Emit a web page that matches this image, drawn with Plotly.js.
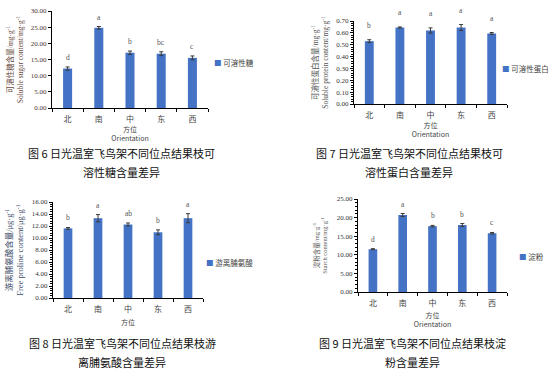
<!DOCTYPE html>
<html><head><meta charset="utf-8">
<script src="https://cdn.plot.ly/plotly-3.0.1.min.js"></script>
<style>html,body{margin:0;padding:0;background:#fff}</style>
</head><body><div id="chart" style="width:551px;height:385px"></div>
<script>
// ---- data ----
const categories = ['北', '南', '中', '东', '西'];

const sugar = [12.2, 24.8, 17.1, 16.8, 15.5];
const sugarErr = [0.5, 0.4, 0.5, 0.6, 0.6];
const sugarSig = ['d', 'a', 'b', 'bc', 'c'];

const protein = [0.53, 0.645, 0.62, 0.645, 0.595];
const proteinErr = [0.012, 0.005, 0.022, 0.025, 0.008];
const proteinSig = ['b', 'a', 'a', 'a', 'a'];

const proline = [11.6, 13.3, 12.25, 10.95, 13.3];
const prolineErr = [0.15, 0.6, 0.25, 0.4, 0.75];
const prolineSig = ['b', 'a', 'ab', 'b', 'a'];

const starch = [11.5, 20.7, 17.7, 18.0, 15.8];
const starchErr = [0.15, 0.4, 0.2, 0.4, 0.2];
const starchSig = ['d', 'a', 'b', 'b', 'c'];

const seriesNames = ['可溶性糖', '可溶性蛋白', '游离脯氨酸', '淀粉'];
const yTitles = [
  '可溶性糖含量/mg·g<sup>-1</sup><br>Soluble sugar content/mg·g<sup>-1</sup>',
  '可溶性蛋白含量/mg·g<sup>-1</sup><br>Soluble protein content/mg·g<sup>-1</sup>',
  '游离脯氨酸含量/μg·g<sup>-1</sup><br>Free proline content/μg·g<sup>-1</sup>',
  '淀粉含量/mg·g<sup>-1</sup><br>Starch content/mg·g<sup>-1</sup>'
];
const xTitles = ['方位<br>Orientation', '方位<br>Orientation', '方位', '方位<br>Orientation'];
const captions = [
  ['图 6 日光温室飞鸟架不同位点结果枝可', '溶性糖含量差异'],
  ['图 7 日光温室飞鸟架不同位点结果枝可', '溶性蛋白含量差异'],
  ['图 8 日光温室飞鸟架不同位点结果枝游', '离脯氨酸含量差异'],
  ['图 9 日光温室飞鸟架不同位点结果枝淀', '粉含量差异']
];

// ---- layout geometry (pixels) ----
const W = 551, H = 385;
const fx = p => p / W, fy = p => 1 - p / H;
const panels = [
  {vals: sugar, err: sugarErr, sig: sugarSig, x0: 52, x1: 208, yt: 11, yb: 108, max: 30, dtick: 5, minor: null, sigShift: 3,
   legX: 212, legY: 63, capX: 121, capY: [153, 172], tcol: '#6a4a40', tickcol: '#4a3030', tsize: 7.5, tstand: 6, xstand: 4},
  {vals: protein, err: proteinErr, sig: proteinSig, x0: 354, x1: 507, yt: 21, yb: 104, max: 0.7, dtick: 0.1, minor: 0.02, sigShift: 8,
   legX: 500, legY: 68, capX: 409, capY: [153, 172], tcol: '#555555', tickcol: '#333333', tsize: 7.5, tstand: 6, xstand: 4},
  {vals: proline, err: prolineErr, sig: prolineSig, x0: 53, x1: 203, yt: 202, yb: 298, max: 16, dtick: 2, minor: 0.4, sigShift: 3,
   legX: 204, legY: 262, capX: 122, capY: [343, 362], tcol: '#3b4a68', tickcol: '#333333', tsize: 8.5, tstand: 6, xstand: 7},
  {vals: starch, err: starchErr, sig: starchSig, x0: 358, x1: 507, yt: 199, yb: 292, max: 25, dtick: 5, minor: 1, sigShift: 3,
   legX: 517, legY: 256, capX: 412, capY: [343, 362], tcol: '#555555', tickcol: '#333333', tsize: 6.5, tstand: 8, xstand: 6}
];

const barColor = '#4472C4';
const data = [];
const annotations = [];
const layout = {
  width: W, height: H,
  margin: {l: 0, r: 0, t: 0, b: 0},
  paper_bgcolor: '#ffffff', plot_bgcolor: '#ffffff',
  showlegend: false,
  bargap: 0.71,
  font: {family: 'Liberation Serif, Noto Sans CJK SC', color: '#333'},
  annotations: annotations
};

panels.forEach((p, i) => {
  const n = i === 0 ? '' : String(i + 1);
  const xa = 'x' + n, ya = 'y' + n;
  data.push({
    type: 'bar', x: categories, y: p.vals, name: seriesNames[i],
    xaxis: xa, yaxis: ya, marker: {color: barColor},
    error_y: {type: 'data', array: p.err, visible: true, color: '#3a3a3a', thickness: 1, width: 2},
    hoverinfo: 'x+y'
  });
  const yAxis = {
    domain: [fy(p.yb), fy(p.yt)], range: [0, p.max], anchor: xa,
    showgrid: false, zeroline: false, showline: true, linecolor: '#000', linewidth: 1,
    ticks: 'outside', ticklen: 3, tickcolor: '#000', dtick: p.dtick, tick0: 0,
    tickformat: '.2f', tickfont: {family: 'Liberation Serif', size: 7, color: p.tickcol},
    automargin: false,
    title: {text: yTitles[i], font: {family: 'Liberation Serif, Noto Sans CJK SC', size: p.tsize, color: p.tcol}, standoff: p.tstand}
  };
  if (p.minor) yAxis.minor = {dtick: p.minor, ticks: 'outside', ticklen: 2, tickcolor: '#000', showgrid: false};
  const xAxis = {
    domain: [fx(p.x0), fx(p.x1)], anchor: ya, type: 'category',
    showgrid: false, zeroline: false, showline: true, linecolor: '#000', linewidth: 1,
    ticks: 'outside', ticklen: 3, tickcolor: '#000', tickson: 'boundaries', ticklabelstandoff: 3,
    tickfont: {family: 'Noto Sans CJK SC', size: 8, color: '#444'},
    automargin: false,
    title: {text: xTitles[i], font: {family: 'Noto Sans CJK SC, Liberation Serif', size: 7, color: '#444'}, standoff: p.xstand}
  };
  layout['xaxis' + n] = xAxis;
  layout['yaxis' + n] = yAxis;

  // significance letters
  categories.forEach((c, k) => {
    annotations.push({
      xref: xa, yref: ya, x: c, y: p.vals[k] + p.err[k], text: p.sig[k],
      showarrow: false, yanchor: 'bottom', yshift: p.sigShift,
      font: {family: 'Liberation Serif', size: 7.5, color: '#555555'}
    });
  });
  // legend key
  annotations.push({
    xref: 'paper', yref: 'paper', x: fx(p.legX), y: fy(p.legY), xanchor: 'left', yanchor: 'middle',
    showarrow: false, align: 'left',
    text: '<span style="color:' + barColor + '">■</span> ' + seriesNames[i],
    font: {family: 'Noto Sans CJK SC', size: 7.5, color: '#444'}
  });
  // caption
  captions[i].forEach((line, j) => {
    annotations.push({
      xref: 'paper', yref: 'paper', x: fx(p.capX), y: fy(p.capY[j]), xanchor: 'center', yanchor: 'middle',
      showarrow: false, text: line,
      font: {family: 'Noto Sans CJK SC', size: 11, color: '#111'}
    });
  });
});

Plotly.newPlot('chart', data, layout, {staticPlot: true, displayModeBar: false});
</script>
</body></html>
